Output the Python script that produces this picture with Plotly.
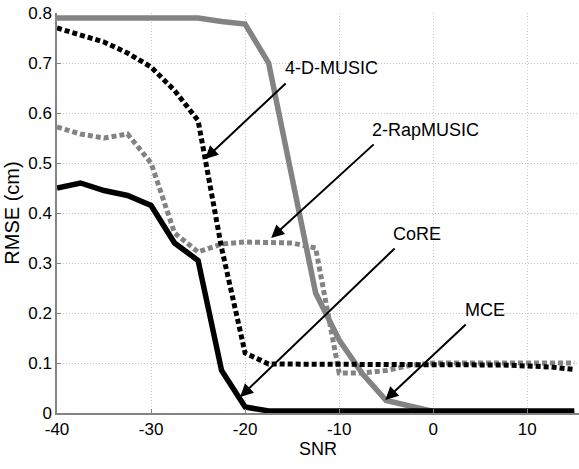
import plotly.graph_objects as go

snr = [-40, -37.5, -35, -32.5, -30, -27.5, -25, -22.5, -20, -17.5, -15, -12.5,
       -10, -7.5, -5, -2.5, 0, 2.5, 5, 7.5, 10, 12.5, 15]

mce = [0.79, 0.79, 0.79, 0.79, 0.79, 0.79, 0.79, 0.783, 0.778, 0.70, 0.47, 0.24,
       0.146, 0.078, 0.025, 0.015, 0.003, 0.0, 0.0, 0.0, 0.0, 0.0, 0.0]
rap2 = [0.572, 0.558, 0.55, 0.558, 0.50, 0.36, 0.322, 0.338, 0.342, 0.342, 0.34, 0.33,
        0.08, 0.08, 0.085, 0.095, 0.10, 0.10, 0.10, 0.10, 0.10, 0.10, 0.10]
music4d = [0.77, 0.757, 0.742, 0.72, 0.692, 0.645, 0.585, 0.33, 0.12, 0.098, 0.098, 0.098,
           0.098, 0.098, 0.098, 0.098, 0.098, 0.098, 0.098, 0.096, 0.094, 0.092, 0.087]
core = [0.45, 0.46, 0.445, 0.435, 0.415, 0.34, 0.305, 0.085, 0.012, 0.004, 0.004, 0.004,
        0.004, 0.004, 0.004, 0.004, 0.004, 0.004, 0.004, 0.004, 0.004, 0.004, 0.004]

xticks = [-40, -30, -20, -10, 0, 10]
xtick_text = ["-40", "-30", "-20", "-10", "0", "10"]
yticks = [0, 0.1, 0.2, 0.3, 0.4, 0.5, 0.6, 0.7, 0.8]
ytick_text = ["0", "0.1", "0.2", "0.3", "0.4", "0.5", "0.6", "0.7", "0.8"]

# label text, text position, arrow tail, arrow head (data coords)
labels = ["4-D-MUSIC", "2-RapMUSIC", "CoRE", "MCE"]
label_x = [-10.85, -0.8, -1.7, 5.53]
label_y = [0.69, 0.566, 0.358, 0.206]
tail_x = [-15.53, -6.17, -3.94, 3.62]
tail_y = [0.662, 0.54, 0.332, 0.18]
head_x = [-24.26, -17.23, -20.53, -5.1]
head_y = [0.508, 0.35, 0.032, 0.026]

GRAY = "#838383"
FONT = "Liberation Sans, Arial, sans-serif"
fig = go.Figure()
fig.add_trace(go.Scatter(x=snr, y=mce, mode="lines", name="MCE",
                         line=dict(color=GRAY, width=5.5)))
fig.add_trace(go.Scatter(x=snr, y=rap2, mode="lines", name="2-RapMUSIC",
                         line=dict(color=GRAY, width=5, dash="5px,3px")))
fig.add_trace(go.Scatter(x=snr, y=music4d, mode="lines", name="4-D-MUSIC",
                         line=dict(color="black", width=5, dash="5px,3px")))
fig.add_trace(go.Scatter(x=snr, y=core, mode="lines", name="CoRE",
                         line=dict(color="black", width=5.5)))

annots = []
for t, lx, ly, tx, ty, hx, hy in zip(labels, label_x, label_y, tail_x, tail_y, head_x, head_y):
    annots.append(dict(x=hx, y=hy, ax=tx, ay=ty, xref="x", yref="y", axref="x", ayref="y",
                       text="", showarrow=True, arrowhead=2, arrowsize=1.3,
                       arrowwidth=2, arrowcolor="black"))
    annots.append(dict(x=lx, y=ly, xref="x", yref="y", text=t, showarrow=False,
                       font=dict(family=FONT, size=18, color="black")))

fig.update_layout(
    width=579, height=469,
    margin=dict(l=57, r=0, t=13, b=56),
    paper_bgcolor="white", plot_bgcolor="white",
    showlegend=False,
    annotations=annots,
    font=dict(family=FONT, size=17, color="black"),
)
fig.update_xaxes(range=[-40, 15.5], tickvals=xticks, ticktext=xtick_text,
                 ticks="inside", ticklen=4, automargin=False,
                 tickcolor=GRAY, showline=True, linecolor=GRAY, linewidth=1.5,
                 showgrid=True, gridcolor="#c4c4c4", griddash="1px,2px", gridwidth=1,
                 zeroline=False,
                 title=dict(text="SNR", font=dict(family=FONT, size=18), standoff=2))
fig.update_yaxes(range=[0, 0.8], tickvals=yticks, ticktext=ytick_text, ticks="inside",
                 ticklen=4, tickcolor=GRAY, showline=True, linecolor=GRAY, linewidth=1.5,
                 showgrid=True, gridcolor="#c4c4c4", griddash="1px,2px", gridwidth=1,
                 zeroline=False, automargin=False,
                 title=dict(text="RMSE (cm)", font=dict(family=FONT, size=20), standoff=3))

fig.write_html("out.html", config={"displayModeBar": False},
               post_script="document.body.style.margin='0';")
